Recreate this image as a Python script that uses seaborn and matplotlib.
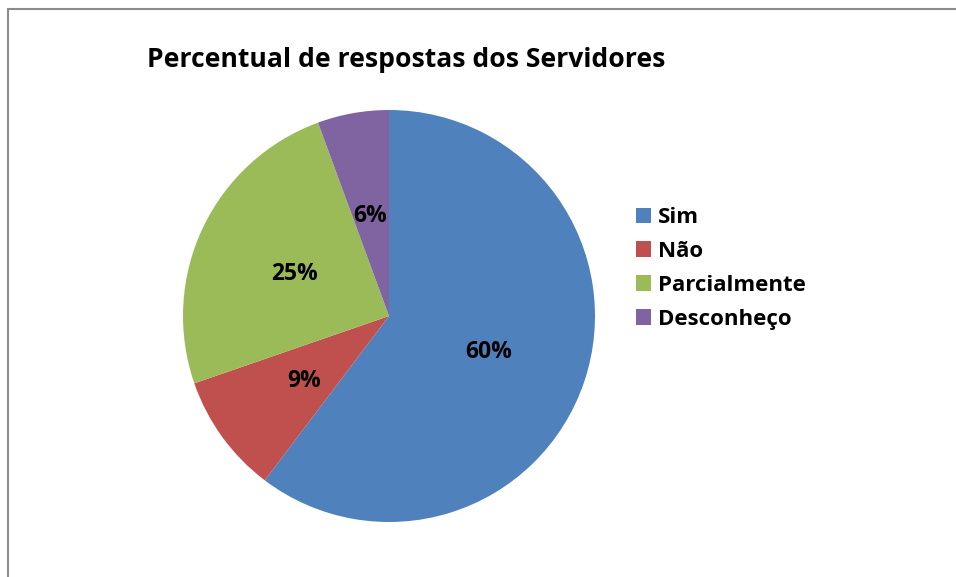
import matplotlib as mpl
mpl.use('Agg')
import matplotlib.pyplot as plt
from matplotlib.patches import Rectangle
import seaborn as sns

# data (slice shares in %)
categories = ['Sim', 'Não', 'Parcialmente', 'Desconheço']
shares = [60.3, 9.4, 24.7, 5.6]
colors = ['#4F81BD', '#C0504D', '#9BBB59', '#8064A2']
title = 'Percentual de respostas dos Servidores'

sns.set_style("white")
plt.rcParams['font.family'] = ['Open Sans', 'DejaVu Sans']
plt.rcParams['text.color'] = 'black'

W, H = 956, 577
fig = plt.figure(figsize=(W / 100, H / 100), dpi=100)

# pie centre (389, 316) px, radius 206 px
cx, cy, r = 389, 316, 206
ax = fig.add_axes([(cx - r) / W, (H - cy - r) / H, 2 * r / W, 2 * r / H])
wedges, texts, autotexts = ax.pie(
    shares,
    colors=colors,
    startangle=90,
    counterclock=False,
    autopct='%.0f%%',
    pctdistance=0.51,
    radius=1,
    wedgeprops=dict(linewidth=0),
    textprops=dict(fontsize=16.5, fontweight='bold', color='black'),
)
for t in autotexts:
    t.set_va('center_baseline')
ax.set_xlim(-1, 1)
ax.set_ylim(-1, 1)
ax.set_aspect('auto')
ax.axis('off')

fig.legend(
    wedges, categories,
    loc='upper left',
    bbox_to_anchor=(636 / W, 1 - 207 / H),
    frameon=False,
    prop=dict(weight='bold', size=16),
    borderpad=0,
    borderaxespad=0,
    handlelength=0.68,
    handleheight=0.68,
    handletextpad=0.3,
    labelspacing=0.58,
)

fig.text(147 / W, 1 - 60 / H, title, ha='left', va='center',
         fontsize=19.1, fontweight='bold', color='black')

# grey frame (only left and top edges visible)
fig.patches.append(Rectangle((8 / W, -0.5), 2, 1.5 - 9 / H,
                             transform=fig.transFigure, fill=False,
                             edgecolor='#8c8c8c', linewidth=1.5))

fig.savefig('out.png', dpi=100)
